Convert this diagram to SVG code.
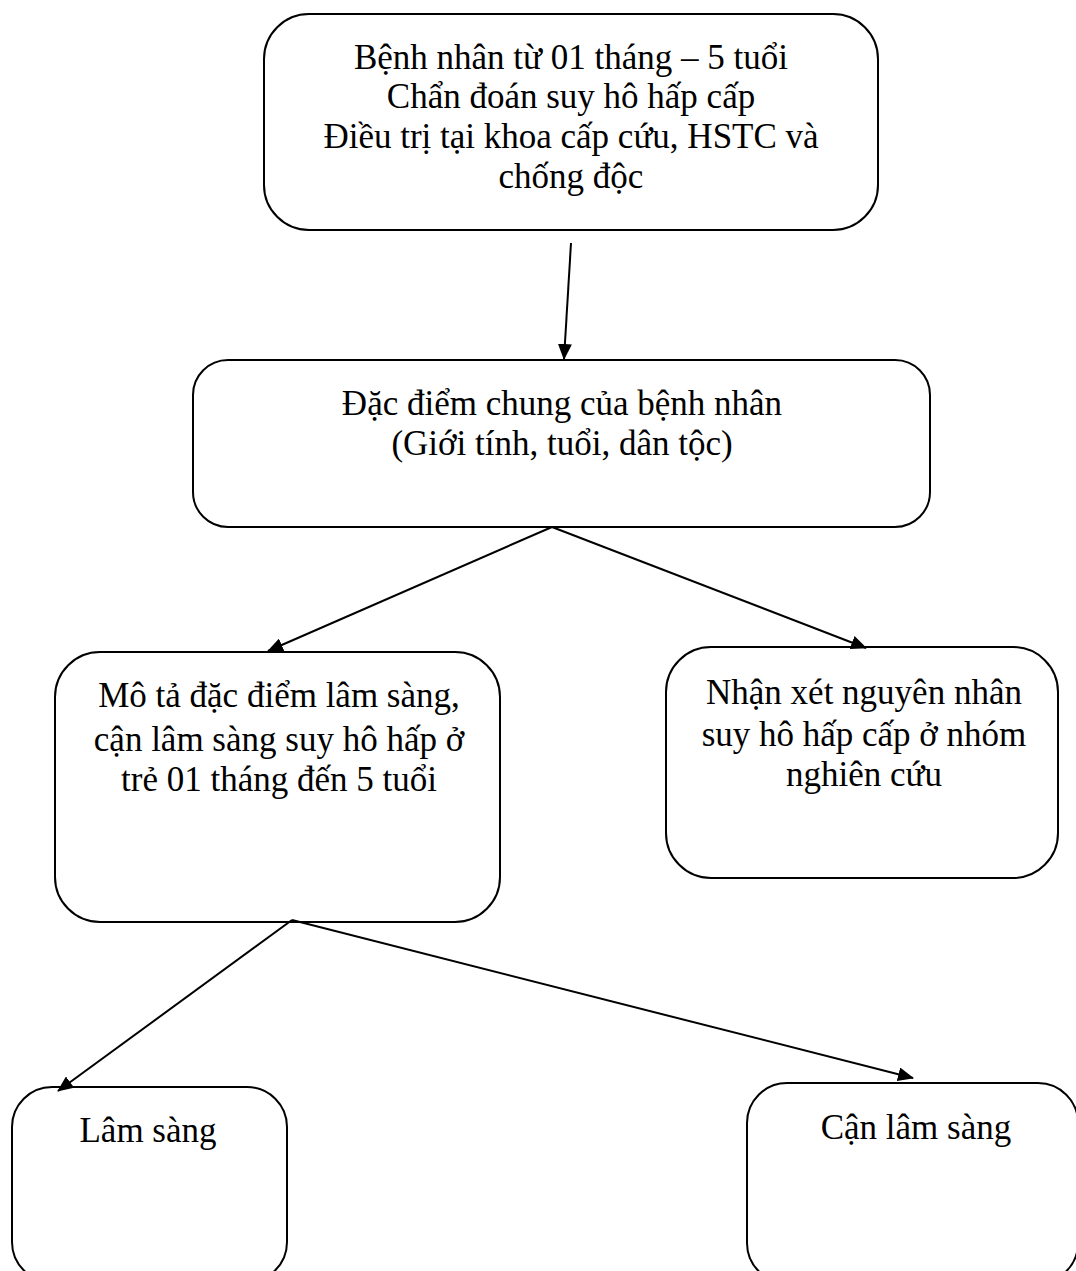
<svg xmlns="http://www.w3.org/2000/svg" width="1076" height="1271" viewBox="0 0 1076 1271">
<style>
.box{fill:#fff;stroke:#000;stroke-width:2}
.t{font-family:"Liberation Serif","Times New Roman",serif;font-size:35px;fill:#000;text-anchor:middle}
.c{stroke:#000;stroke-width:2;fill:none;marker-end:url(#ah)}
</style>
<defs>
<marker id="ah" markerWidth="16" markerHeight="14" refX="15" refY="7" orient="auto" markerUnits="userSpaceOnUse" viewBox="0 0 16 14">
<path d="M0,0 L16,7 L0,14 z" fill="#000"/>
</marker>
</defs>
<rect width="1076" height="1271" fill="#fff"/>
<g id="n1">
<rect class="box" x="264" y="14" width="614" height="216" rx="45"/>
<text class="t" x="571" y="69">Bệnh nhân từ 01 tháng – 5 tuổi</text>
<text class="t" x="571" y="108">Chẩn đoán suy hô hấp cấp</text>
<text class="t" x="571" y="148">Điều trị tại khoa cấp cứu, HSTC và</text>
<text class="t" x="571" y="188">chống độc</text>
</g>
<g id="n2">
<rect class="box" x="193" y="360" width="737" height="167" rx="35"/>
<text class="t" x="562" y="415">Đặc điểm chung của bệnh nhân</text>
<text class="t" x="562" y="455">(Giới tính, tuổi, dân tộc)</text>
</g>
<g id="n3">
<rect class="box" x="55" y="652" width="445" height="270" rx="45"/>
<text class="t" x="279" y="707">Mô tả đặc điểm lâm sàng,</text>
<text class="t" x="279" y="751">cận lâm sàng suy hô hấp ở</text>
<text class="t" x="279" y="791">trẻ 01 tháng đến 5 tuổi</text>
</g>
<g id="n4">
<rect class="box" x="666" y="647" width="392" height="231" rx="45"/>
<text class="t" x="864" y="704">Nhận xét nguyên nhân</text>
<text class="t" x="864" y="746">suy hô hấp cấp ở nhóm</text>
<text class="t" x="864" y="786">nghiên cứu</text>
</g>
<g id="n5">
<rect class="box" x="12" y="1087" width="275" height="195" rx="40"/>
<text class="t" x="148" y="1142">Lâm sàng</text>
</g>
<g id="n6">
<rect class="box" x="747" y="1083" width="331" height="200" rx="40"/>
<text class="t" x="916" y="1139">Cận lâm sàng</text>
</g>
<g id="connectors">
<line class="c" x1="571" y1="243" x2="564" y2="359"/>
<line class="c" x1="552" y1="527" x2="268" y2="651"/>
<line class="c" x1="552" y1="527" x2="866" y2="648"/>
<line class="c" x1="292" y1="920" x2="58" y2="1091"/>
<line class="c" x1="292" y1="920" x2="913" y2="1078"/>
</g>
</svg>
